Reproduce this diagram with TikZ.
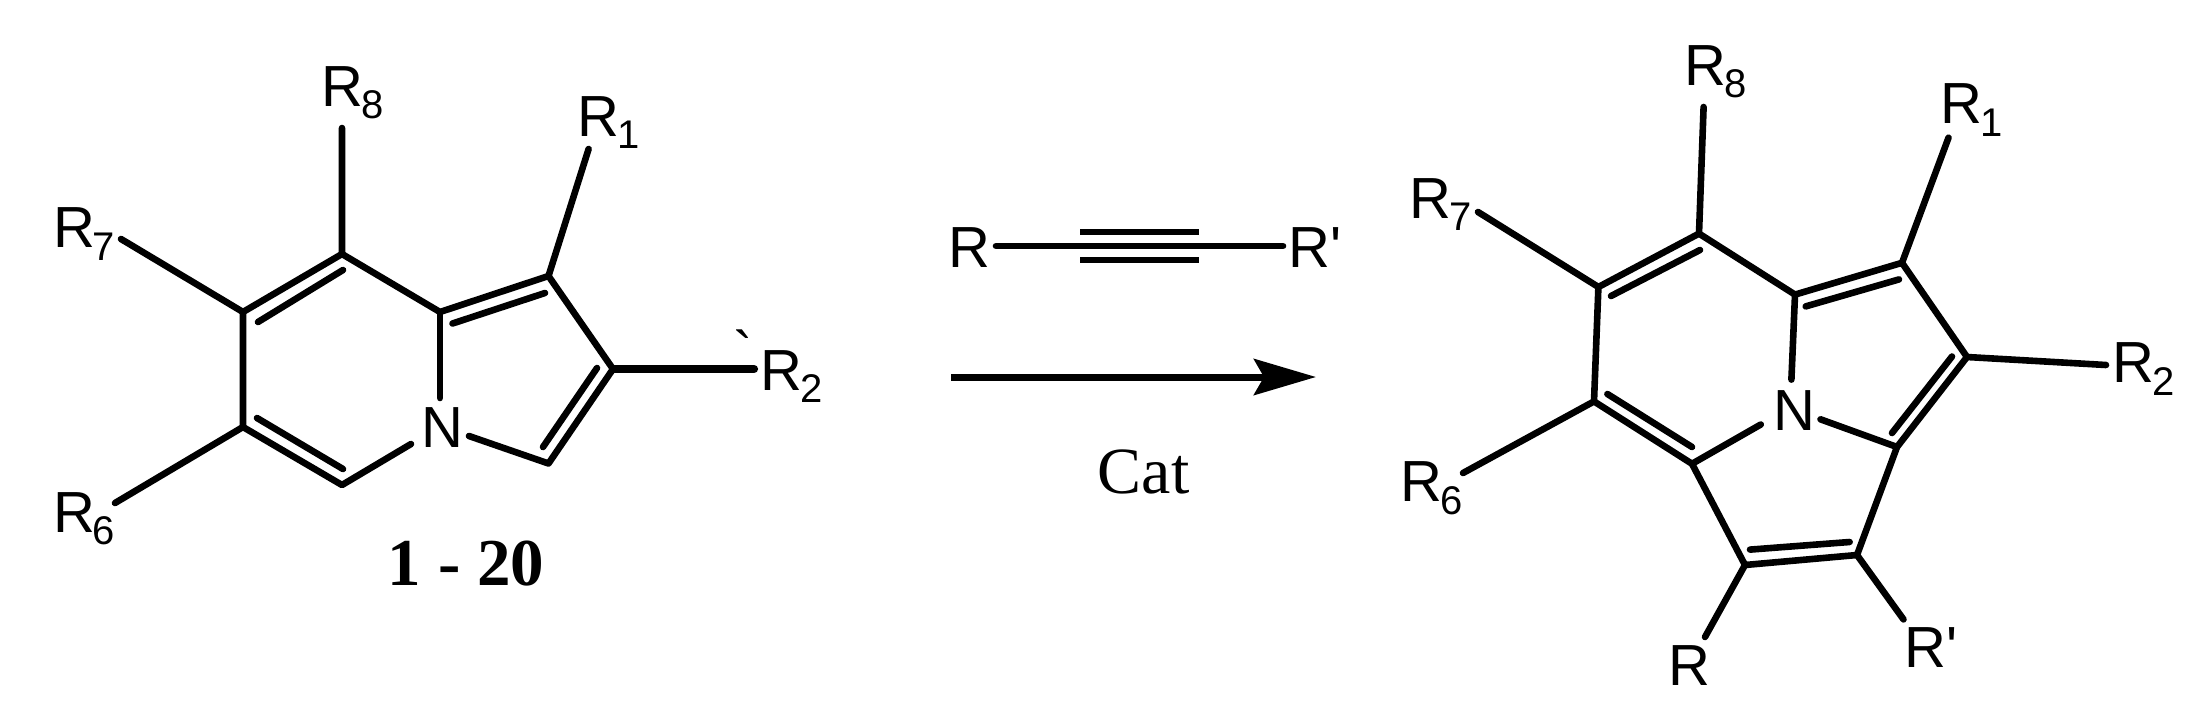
\documentclass[tikz,border=0pt]{standalone}
\usepackage{fontspec}
\setmainfont{Liberation Sans}
\newfontfamily\plainsans{Liberation Sans}
\newfontfamily\serifcat{Liberation Serif}
\usetikzlibrary{arrows.meta}
\newcommand{\Rsub}[1]{R\kern-2pt\raisebox{-12.5pt}{\fontsize{40}{40}\selectfont #1}}
\tikzset{
  bond/.style={line width=6.6pt,line cap=round,line join=round,black},
  thickbond/.style={bond,line width=8.2pt},
  tbar/.style={line width=6.6pt,black},
  rlabel/.style={anchor=base west,inner sep=0pt,outer sep=0pt,xshift=-3.5pt,font=\fontsize{58}{58}\selectfont\plainsans},
  serifbig/.style={anchor=base,inner sep=0pt,outer sep=0pt},
}
\begin{document}
\begin{tikzpicture}[x=1pt,y=-1pt]
\useasboundingbox (0,0) rectangle (2209,716);
\fill[white] (0,0) rectangle (2209,716);
% ---------- left molecule
\coordinate (a8) at (342,254);
\coordinate (a7) at (243,312);
\coordinate (a6) at (243,427);
\coordinate (a5) at (342,485);
\coordinate (a9) at (440,312);
\coordinate (a1) at (548.5,276);
\coordinate (a2) at (613,369);
\coordinate (a3) at (548.5,463.5);
\coordinate (aN1) at (440,398);
\coordinate (aN2) at (411,444);
\coordinate (aN3) at (469,436);
\coordinate (ae8) at (342,128);
\coordinate (ae1) at (588.6,149);
\coordinate (ae7) at (121,239);
\coordinate (ae6) at (115,503);
\coordinate (ae2) at (754,369);
\coordinate (ai1) at (258,322);
\coordinate (ai2) at (343,270);
\coordinate (ai3) at (257,418);
\coordinate (ai4) at (343,469);
\coordinate (ai5) at (452.5,323.5);
\coordinate (ai6) at (545,293);
\coordinate (ai7) at (597,368);
\coordinate (ai8) at (543,447);
\node[rlabel] (aR8) at (325,106) {\Rsub{8}};
\node[rlabel] (aR1) at (581,136) {\Rsub{1}};
\node[rlabel] (aR7) at (56.5,247.5) {\Rsub{7}};
\node[rlabel] (aR6) at (56.5,532) {\Rsub{6}};
\node[rlabel] (aR2) at (764,390) {\Rsub{2}};
\node[rlabel] (aTick) at (737,372) {`};
\node[rlabel] (aN) at (425,447) {N};
\node[serifbig,font=\fontsize{67}{67}\selectfont\serifcat\bfseries] (aName) at (466,585) {1 - 20};
\draw[bond] (ae8) -- (a8) -- (a7) -- (a6) -- (a5) -- (aN2);
\draw[bond] (a8) -- (a9) -- (a1) -- (a2) -- (a3) -- (aN3);
\draw[bond] (a9) -- (aN1);
\draw[bond] (a7) -- (ae7);
\draw[bond] (a6) -- (ae6);
\draw[bond] (a1) -- (ae1);
\draw[thickbond] (a2) -- (ae2);
\draw[bond] (ai1) -- (ai2);
\draw[bond] (ai3) -- (ai4);
\draw[bond] (ai5) -- (ai6);
\draw[bond] (ai7) -- (ai8);
% ---------- alkyne and arrow
\node[rlabel] (mR) at (952,267) {R};
\node[rlabel] (mRp) at (1292,267) {R'};
\coordinate (m1) at (996,246);
\coordinate (m2) at (1283,246);
\coordinate (t1a) at (1080,232);
\coordinate (t1b) at (1199,232);
\coordinate (t2a) at (1080,260);
\coordinate (t2b) at (1199,260);
\draw[bond] (m1) -- (m2);
\draw[tbar] (t1a) -- (t1b);
\draw[tbar] (t2a) -- (t2b);
\coordinate (ar1) at (951,377);
\coordinate (ar2) at (1316,377);
\draw[line width=7pt,-{Stealth[length=62pt,width=36pt,inset=10pt]}] (ar1) -- (ar2);
\node[serifbig,font=\fontsize{66}{66}\selectfont\serifcat] (cat) at (1143.5,493) {Cat};
% ---------- right molecule
\coordinate (b8) at (1699,233.6);
\coordinate (b7) at (1598.4,287);
\coordinate (b6) at (1594,401.4);
\coordinate (b5) at (1692,463.8);
\coordinate (b9) at (1795,294.6);
\coordinate (b1) at (1902,262.8);
\coordinate (b2) at (1967,357);
\coordinate (b3) at (1897,447);
\coordinate (b4) at (1857,555);
\coordinate (b10) at (1745,565);
\coordinate (bN1) at (1791.4,379.6);
\coordinate (bN2) at (1760.8,424.5);
\coordinate (bN3) at (1820.5,419.3);
\coordinate (be8) at (1703.6,107);
\coordinate (be1) at (1948.5,137.7);
\coordinate (be7) at (1478,212);
\coordinate (be6) at (1463,473);
\coordinate (be2) at (2106,365);
\coordinate (beR) at (1705,637);
\coordinate (beRp) at (1903.5,619.4);
\coordinate (bi1) at (1611,296);
\coordinate (bi2) at (1700,250);
\coordinate (bi3) at (1607.4,394);
\coordinate (bi4) at (1692,447);
\coordinate (bi5) at (1805.7,306.4);
\coordinate (bi6) at (1899,279.4);
\coordinate (bi7) at (1952,356.5);
\coordinate (bi8) at (1892,433);
\coordinate (bi9) at (1750,549.6);
\coordinate (bi10) at (1849.6,542);
\node[rlabel] (bR8) at (1688,85.4) {\Rsub{8}};
\node[rlabel] (bR1) at (1944,123.7) {\Rsub{1}};
\node[rlabel] (bR7) at (1413,218) {\Rsub{7}};
\node[rlabel] (bR6) at (1404,501.7) {\Rsub{6}};
\node[rlabel] (bR2) at (2116,382.7) {\Rsub{2}};
\node[rlabel] (bR) at (1672.4,685) {R};
\node[rlabel] (bRp) at (1908,667) {R'};
\node[rlabel] (bN) at (1776.6,430) {N};
\draw[bond] (be8) -- (b8) -- (b7) -- (b6) -- (b5) -- (bN2);
\draw[bond] (b8) -- (b9) -- (b1) -- (b2) -- (b3) -- (bN3);
\draw[bond] (b9) -- (bN1);
\draw[bond] (b3) -- (b4) -- (b10) -- (b5);
\draw[bond] (b7) -- (be7);
\draw[bond] (b6) -- (be6);
\draw[bond] (b1) -- (be1);
\draw[bond] (b2) -- (be2);
\draw[bond] (b10) -- (beR);
\draw[bond] (b4) -- (beRp);
\draw[bond] (bi1) -- (bi2);
\draw[bond] (bi3) -- (bi4);
\draw[bond] (bi5) -- (bi6);
\draw[bond] (bi7) -- (bi8);
\draw[bond] (bi9) -- (bi10);
\end{tikzpicture}
\end{document}
